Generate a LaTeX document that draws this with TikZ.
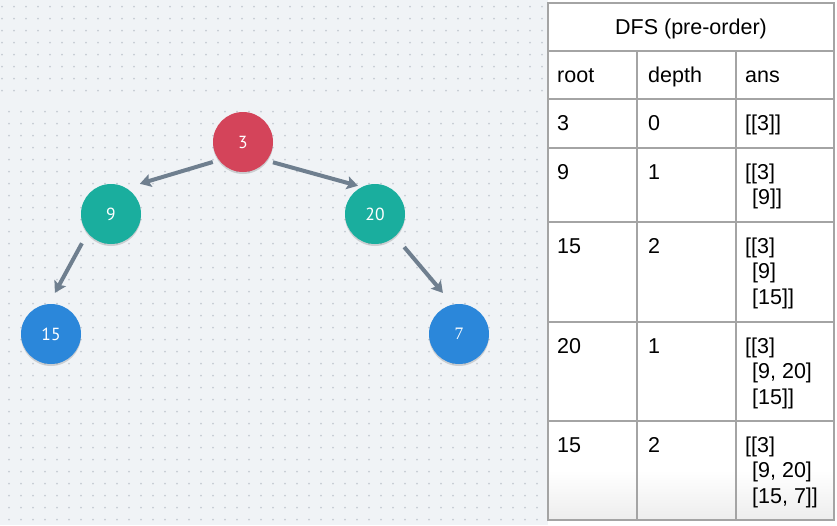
\documentclass[tikz,border=0pt]{standalone}
\usepackage{fontspec}
\setmainfont{Liberation Sans}
\newfontfamily\nodefont{PT Sans}
\newfontfamily\sevenfont{Liberation Serif}
\usetikzlibrary{arrows.meta,shadows}
\definecolor{bgc}{HTML}{F0F3F6}
\definecolor{dotc}{HTML}{C6CCD3}
\definecolor{cred}{HTML}{D4445A}
\definecolor{cteal}{HTML}{1AAE9E}
\definecolor{cblue}{HTML}{2B87DA}
\definecolor{carrow}{HTML}{6F7F8F}
\definecolor{tline}{HTML}{A4A4A4}
\tikzset{
  treenode/.style={circle, minimum size=60pt, inner sep=0pt, text=white,
    font=\nodefont\fontsize{17.5}{17.5}\selectfont,
    drop shadow={shadow xshift=0pt, shadow yshift=-2pt, opacity=0.15, fill=black}},
  treearrow/.style={draw=carrow, line width=4pt,
    -{Stealth[length=11pt, width=13pt, inset=2pt]}},
  tablerule/.style={draw=tline, line width=1.3pt},
  cell/.style={inner sep=0pt, anchor=base west, align=left,
    font=\fontsize{21.5}{25.5}\selectfont}
}
\begin{document}
\begin{tikzpicture}[x=1pt,y=-1pt]
\useasboundingbox (0,0) rectangle (837,525);
\fill[bgc] (0,0) rectangle (837,525);
% dotted grid
\foreach \i in {0,...,45}{\foreach \j in {0,...,7}{\fill[dotc] (2+12*\i,6.7+12*\j) circle[radius=1pt];}}
\foreach \i in {0,...,44}{\foreach \j in {0,...,34}{\fill[dotc] (9+12*\i,111.7+12*\j) circle[radius=1pt];}}
% table
\fill[white] (548,0) rectangle (837,525);
\shade[top color=white, bottom color=black!7] (548,470) rectangle (834,520);
\draw[tablerule] (548,3) rectangle (834,520);
\foreach \yy in {51,99,148,222,322,421}{\draw[tablerule] (548,\yy) -- (834,\yy);}
\draw[tablerule] (637,51) -- (637,520);
\draw[tablerule] (736,51) -- (736,520);
% (multi-line cells are placed by the baseline of their last line)
\node[cell, anchor=base] (title) at (691,34.5) {DFS (pre-order)};
\node[cell] (h1) at (557,82.5) {root};
\node[cell] (h2) at (648,82.5) {depth};
\node[cell] (h3) at (745,82.5) {ans};
\node[cell] (a1) at (557,130) {3};
\node[cell] (b1) at (648,130) {0};
\node[cell] (c1) at (745,130) {[[3]]};
\node[cell] (a2) at (557,179) {9};
\node[cell] (b2) at (648,179) {1};
\node[cell] (c2) at (745,204.5) {[[3]\\\hspace{7pt}[9]]};
\node[cell] (a3) at (557,253) {15};
\node[cell] (b3) at (648,253) {2};
\node[cell] (c3) at (745,304) {[[3]\\\hspace{7pt}[9]\\\hspace{7pt}[15]]};
\node[cell] (a4) at (557,353) {20};
\node[cell] (b4) at (648,353) {1};
\node[cell] (c4) at (745,404) {[[3]\\\hspace{7pt}[9, 20]\\\hspace{7pt}[15]]};
\node[cell] (a5) at (557,452) {15};
\node[cell] (b5) at (648,452) {2};
\node[cell] (c5) at (745,503) {[[3]\\\hspace{7pt}[9, 20]\\\hspace{7pt}[15, 7]]};
% tree
\node[treenode, fill=cred] (n3) at (243,142) {3};
\node[treenode, fill=cteal] (n9) at (111,214) {9};
\node[treenode, fill=cteal] (n20) at (375,214) {20};
\node[treenode, fill=cblue] (n15) at (51,334) {15};
\node[treenode, fill=cblue] (n7) at (459,334) {\sevenfont 7};
\draw[treearrow, shorten <=6.4pt, shorten >=14.4pt] (n3.217) -- (n9.60);
\draw[treearrow, shorten <=6.4pt, shorten >=4pt] (n3.322) -- (n20.116);
\draw[treearrow, shorten <=11.7pt, shorten >=12.6pt] (n9.219) -- (n15.94);
\draw[treearrow, shorten <=13.9pt, shorten >=15.2pt] (n20.312) -- (n7.102);
\end{tikzpicture}
\end{document}
